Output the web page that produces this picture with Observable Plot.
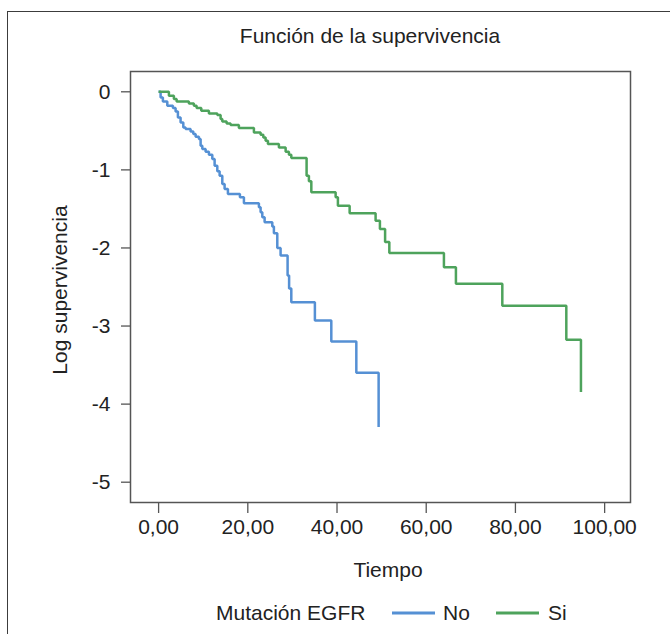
<!DOCTYPE html>
<html>
<head>
<meta charset="utf-8">
<script src="https://cdn.jsdelivr.net/npm/d3@7"></script>
<script src="https://cdn.jsdelivr.net/npm/@observablehq/plot@0.6"></script>
<style>
  html, body { margin: 0; padding: 0; background: #fff; }
  body { font-family: "Liberation Sans", Arial, Helvetica, sans-serif; color: #222; }
  #wrap { position: relative; width: 670px; height: 634px; overflow: hidden; }
  #border { position: absolute; left: 7px; top: 11px; width: 720px; height: 720px;
            border-left: 1.5px solid #3c3c3c; border-top: 1.5px solid #3c3c3c; }
  #chart { position: absolute; left: 0; top: 0; }
  .lbl { position: absolute; transform: translate(-50%, -50%); white-space: nowrap; font-size: 21px; color: #222; }
  .sw { position: absolute; height: 3px; transform: translateY(-50%); }
  .lt { position: absolute; transform: translateY(-50%); white-space: nowrap; font-size: 21px; color: #222; }
</style>
</head>
<body>
<div id="wrap">
  <div id="border"></div>
  <div id="chart"></div>
</div>
<script>
// ---- data ----
const title = "Función de la supervivencia";
const xLabel = "Tiempo";
const yLabel = "Log supervivencia";
const legendTitle = "Mutación EGFR";
const groups = ["No", "Si"];
const groupColors = ["#5590d4", "#4ea35c"];

const xTicks = [0, 20, 40, 60, 80, 100];
const yTicks = [0, -1, -2, -3, -4, -5];

// step points for "No" (time, log survival after the event)
const noTime = [0, 0.45, 0.96, 1.95, 3.21, 3.81, 4.33, 4.93, 5.54, 6.05, 7.17, 7.78, 8.30, 9.04, 9.42, 9.80, 10.54, 11.28, 12.04, 12.56, 13.16, 13.68, 14.28, 14.80, 15.54, 18.23, 19.13, 22.49, 22.87, 23.25, 23.77, 25.49, 25.85, 26.61, 27.35, 28.92, 29.26, 29.75, 35.04, 38.72, 44.33, 49.33];
const noLogS = [0, -0.073, -0.124, -0.179, -0.208, -0.252, -0.329, -0.393, -0.457, -0.477, -0.508, -0.541, -0.575, -0.605, -0.691, -0.733, -0.767, -0.806, -0.861, -0.946, -1.019, -1.074, -1.180, -1.244, -1.308, -1.352, -1.428, -1.480, -1.543, -1.607, -1.671, -1.726, -1.812, -1.999, -2.097, -2.353, -2.519, -2.694, -2.928, -3.197, -3.597, -4.293];

// step points for "Si"
const siTime = [0, 2.31, 3.43, 4.04, 6.79, 7.91, 8.52, 9.57, 11.28, 13.16, 13.90, 14.28, 15.25, 16.14, 18.00, 21.37, 22.87, 23.48, 23.99, 24.51, 26.97, 28.48, 29.22, 29.75, 33.18, 33.70, 34.24, 39.69, 40.20, 42.83, 48.65, 49.62, 50.78, 51.73, 63.97, 66.66, 77.06, 91.41, 94.69];
const siLogS = [0, -0.051, -0.093, -0.124, -0.150, -0.179, -0.208, -0.243, -0.277, -0.298, -0.349, -0.380, -0.405, -0.426, -0.464, -0.520, -0.550, -0.584, -0.627, -0.669, -0.712, -0.767, -0.806, -0.848, -1.074, -1.145, -1.288, -1.352, -1.458, -1.556, -1.650, -1.756, -1.925, -2.065, -2.247, -2.459, -2.740, -3.175, -3.845];

// ---- build table ----
const rows = [];
noTime.forEach((t, i) => rows.push({ group: groups[0], t, s: noLogS[i] }));
siTime.forEach((t, i) => rows.push({ group: groups[1], t, s: siLogS[i] }));

const fmtX = d => d.toFixed(2).replace(".", ",");
const fmtY = d => String(d);

const chart = Plot.plot({
  width: 670,
  height: 634,
  marginTop: 71,
  marginBottom: 132,
  marginLeft: 130,
  marginRight: 40,
  style: { fontFamily: '"Liberation Sans", Arial, sans-serif', fontSize: "21px", color: "#222", background: "transparent" },
  x: { domain: [-6.3, 105.8] },
  y: { domain: [-5.26, 0.26] },
  color: { domain: groups, range: groupColors },
  marks: [
    Plot.axisX({ ticks: xTicks, tickFormat: fmtX, tickSize: 11, tickPadding: 6, fontSize: 21, label: null, stroke: "#555", strokeWidth: 1.3, fill: "#222" }),
    Plot.axisY({ ticks: yTicks, tickFormat: fmtY, tickSize: 9, tickPadding: 11, fontSize: 21, label: null, stroke: "#555", strokeWidth: 1.3, fill: "#222" }),
    Plot.line(rows, { x: "t", y: "s", z: "group", stroke: "group", strokeWidth: 2.5, curve: "step-after", strokeLinejoin: "miter", strokeLinecap: "butt" }),
    Plot.frame({ stroke: "#555", strokeWidth: 1.5 })
  ]
});
document.getElementById("chart").appendChild(chart);

// ---- texts and legend ----
const wrap = document.getElementById("wrap");
function addLabel(text, cx, cy, extra) {
  const d = document.createElement("div");
  d.className = "lbl";
  d.textContent = text;
  d.style.left = cx + "px";
  d.style.top = cy + "px";
  if (extra) Object.assign(d.style, extra);
  wrap.appendChild(d);
  return d;
}
addLabel(title, 370, 36);
addLabel(xLabel, 388, 570);
addLabel(yLabel, 60, 290, { transform: "translate(-50%, -50%) rotate(-90deg)" });

const legendY = 613;
const lt = document.createElement("div");
lt.className = "lt"; lt.textContent = legendTitle;
lt.style.left = "216px"; lt.style.top = legendY + "px";
wrap.appendChild(lt);
const swX = [392, 496];
const txX = [443, 548];
groups.forEach((g, i) => {
  const s = document.createElement("div");
  s.className = "sw"; s.style.left = swX[i] + "px"; s.style.width = "43px";
  s.style.top = legendY + "px"; s.style.background = groupColors[i];
  wrap.appendChild(s);
  const t = document.createElement("div");
  t.className = "lt"; t.textContent = g;
  t.style.left = txX[i] + "px"; t.style.top = legendY + "px";
  wrap.appendChild(t);
});
</script>
</body>
</html>
